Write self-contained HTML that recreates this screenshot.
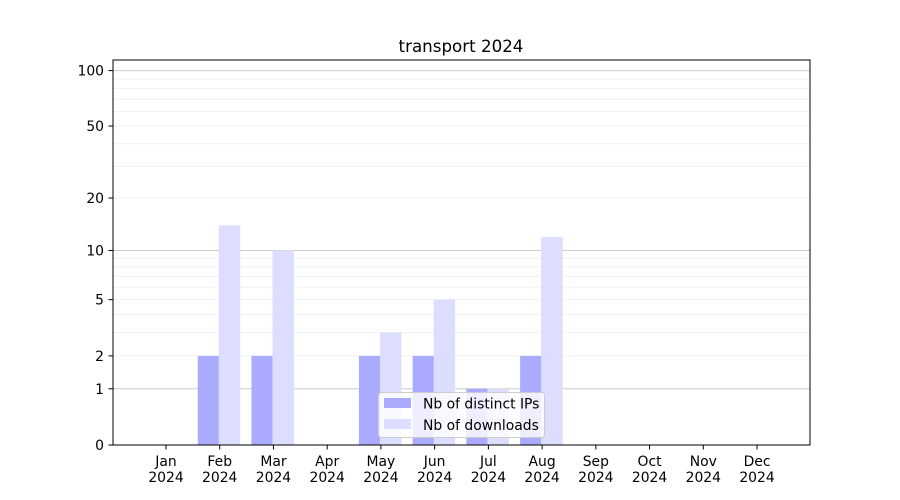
<!DOCTYPE html>
<html><head><meta charset="utf-8"><style>body{margin:0;background:#fff}svg{display:block;font-family:"DejaVu Sans","Liberation Sans",sans-serif}</style></head>
<body><svg id="s" width="900" height="500" xmlns="http://www.w3.org/2000/svg"></svg>
<script>
const s=document.getElementById('s');let h='';
const Y=v=>445-186.8*Math.log10(1+v);
for(const d of [1,10]){for(let k=2;k<=9;k++){const v=k*d;h+=`<line x1="113" x2="810" y1="${Y(v)}" y2="${Y(v)}" stroke="#eeeeee" stroke-width="0.8"/>`;}}
for(const v of [1,10,100])h+=`<line x1="113" x2="810" y1="${Y(v)}" y2="${Y(v)}" stroke="#cccccc" stroke-width="1"/>`;
const ips=[0,2,2,0,2,2,1,2,0,0,0,0],dl=[0,14,10,0,3,5,1,12,0,0,0,0];
const m=['Jan','Feb','Mar','Apr','May','Jun','Jul','Aug','Sep','Oct','Nov','Dec'];
for(let i=0;i<12;i++){const c=166+i*53.73;
if(ips[i])h+=`<rect x="${(c-22).toFixed(2)}" y="${Y(ips[i])}" width="21.5" height="${445-Y(ips[i])}" fill="#aaaaff"/>`;
if(dl[i])h+=`<rect x="${(c-1).toFixed(2)}" y="${Y(dl[i])}" width="21.5" height="${445-Y(dl[i])}" fill="#ddddff"/>`;
}
h+=`<rect x="113" y="60" width="697" height="385" fill="none" stroke="#000" stroke-width="1"/>`;
for(let i=0;i<12;i++){const c=166+i*53.73;h+=`<line x1="${c}" x2="${c}" y1="445" y2="449.5" stroke="#000"/><text x="${c}" y="466" font-size="13.9" text-anchor="middle">${m[i]}</text><text x="${c}" y="482" font-size="13.9" text-anchor="middle">2024</text>`;}
for(const v of [0,1,2,5,10,20,50,100]){const y=Y(v);h+=`<line x1="108.5" x2="113" y1="${y}" y2="${y}" stroke="#000"/><text x="104" y="${y+5}" font-size="13.9" text-anchor="end">${v}</text>`;}
h+=`<text x="461" y="52" font-size="16.7" text-anchor="middle">transport 2024</text>`;
h+=`<rect x="378.5" y="392.5" width="166" height="45" rx="3" fill="#fff" fill-opacity="0.8" stroke="#cccccc"/>`;
h+=`<rect x="384" y="398" width="27" height="10" fill="#aaaaff"/><text x="423" y="408.5" font-size="13.9">Nb of distinct IPs</text>`;
h+=`<rect x="384" y="419" width="27" height="10" fill="#ddddff"/><text x="423" y="430" font-size="13.9">Nb of downloads</text>`;
s.innerHTML=h;
</script></body></html>
